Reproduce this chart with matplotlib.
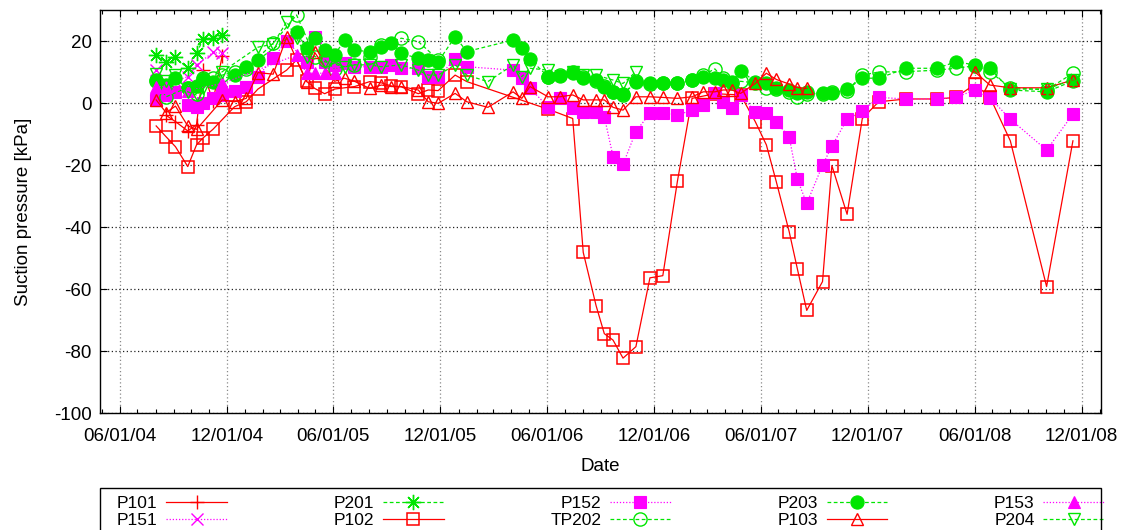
import numpy as np
import pandas as pd
import matplotlib
matplotlib.use("Agg")
import matplotlib.pyplot as plt
import matplotlib.dates as mdates
from matplotlib.patches import Rectangle

plt.rcParams["font.family"] = ["Liberation Sans", "DejaVu Sans"]
plt.rcParams["axes.unicode_minus"] = False

N = None

# Survey dates shared by all piezometers (None = no reading that day)
DATES = [
    "2004-08-02", "2004-08-19", "2004-09-04", "2004-09-25", "2004-10-10",
    "2004-10-21", "2004-11-07", "2004-11-23", "2004-12-14", "2005-01-03",
    "2005-01-23", "2005-02-18", "2005-03-13", "2005-03-30", "2005-04-16",
    "2005-04-30", "2005-05-17", "2005-06-03", "2005-06-20", "2005-07-07",
    "2005-08-02", "2005-08-22", "2005-09-08", "2005-09-25", "2005-10-24",
    "2005-11-10", "2005-11-27", "2005-12-26", "2006-01-15", "2006-02-20",
    "2006-04-04", "2006-04-19", "2006-05-03", "2006-06-03", "2006-06-23",
    "2006-07-15", "2006-08-02", "2006-08-24", "2006-09-07", "2006-09-22",
    "2006-10-09", "2006-10-31", "2006-11-24", "2006-12-16", "2007-01-10",
    "2007-02-04", "2007-02-23", "2007-03-15", "2007-03-29", "2007-04-13",
    "2007-04-28", "2007-05-23", "2007-06-11", "2007-06-28", "2007-07-20",
    "2007-08-03", "2007-08-19", "2007-09-15", "2007-10-01", "2007-10-27",
    "2007-11-22", "2007-12-20", "2008-02-05", "2008-03-29", "2008-04-30",
    "2008-06-01", "2008-06-27", "2008-08-01", "2008-10-02", "2008-11-16",
]

# Suction pressure readings [kPa]
P101 = [
    N, -4, -6, -9, -7, 10.5, 0.5, 15.3, N, N,
    N, N, N, N, N, N, N, N, N, N,
    N, N, N, N, N, N, N, N, N, N,
    N, N, N, N, N, N, N, N, N, N,
    N, N, N, N, N, N, N, N, N, N,
    N, N, N, N, N, N, N, N, N, N,
    N, N, N, N, N, N, N, N, N, N,
]
P151 = [
    10.5, 6, 7, 8.5, 12.3, N, 16.3, 16, N, N,
    N, N, N, N, N, N, N, N, N, N,
    N, N, N, N, N, N, N, N, N, N,
    N, N, N, N, N, N, N, N, N, N,
    N, N, N, N, N, N, N, N, N, N,
    N, N, N, N, N, N, N, N, N, N,
    N, N, N, N, N, N, N, N, N, N,
]
P201 = [
    15.5, 13.3, 14.7, 11.2, 16, 20.5, 20.9, 21.9, N, N,
    N, N, N, N, N, N, N, N, N, N,
    N, N, N, N, N, N, N, N, N, N,
    N, N, N, N, N, N, N, N, N, N,
    N, N, N, N, N, N, N, N, N, N,
    N, N, N, N, N, N, N, N, N, N,
    N, N, N, N, N, N, N, N, N, N,
]
P102 = [
    -7.4, -10.9, -14.1, -20.5, -13.5, -11.3, -8.5, N, -1.2, 0.4,
    4.5, N, 10.6, 13.9, 7.0, 4.7, 3.0, 4.5, N, 5.3,
    6.9, 6.5, 5.5, 5.2, 3.0, 4.2, 4.0, 9.0, 6.9, N,
    N, N, N, -2.0, N, -5.0, -48.2, -65.4, -74.4, -76.5,
    -82.3, -78.6, -56.4, -55.7, -25.2, 1.5, N, 3.0, N, N,
    2.6, -6.0, -13.5, -25.4, -41.5, -53.5, -66.9, -57.6, -20.2, -35.9,
    -5.0, 0.4, 1.3, 1.3, 1.8, 6.0, 2.0, -12.2, -59.2, -12.2,
]
P152 = [
    1.0, 2.5, 3.5, -0.6, -1.2, 0.0, 1.6, 2.6, 4.0, 5.3,
    8.5, 14.5, 20.0, N, 13.3, 21.4, 13.3, 12.3, 12.8, 11.7,
    11.7, 11.7, 12.3, 11.2, 11.2, 8.5, 8.5, 14.1, 11.7, N,
    10.6, 8.0, 4.7, -1.2, 1.6, -1.7, -2.8, -2.8, -4.4, -17.3,
    -19.8, -9.2, -3.3, -3.3, -3.9, -2.3, -0.6, 3.2, 0.4, -1.7,
    2.6, -2.8, -3.3, -6.2, -10.9, -24.6, -32.4, -20.1, -13.9, -5.3,
    -2.6, 1.8, 1.3, 1.3, 1.8, 4.2, 1.7, -5.2, -15.2, -3.6,
]
TP202 = [
    7, 2, N, 5, 3, 8, 8, 9, 10, 11,
    N, 19.3, N, 28.4, N, 15, 14, 11, N, 12.3,
    15, 18.7, N, 20.9, 19.8, N, 14, N, N, N,
    N, N, N, 8.5, 9, 10, 8.5, 7, 5.5, 3.5,
    2.5, 7, 6, 6.5, 6.5, 7.5, 9, 11, 8, 6.5,
    7, 6.5, 5, 4.5, 3.5, 2, 3, 3, 3.5, 4,
    9, 10, 10.1, 10.6, 11.2, 12, 10.1, 5, 4.2, 9.6,
]
P203 = [
    7.4, 5.8, 8, 4.7, 5.5, 7.7, 6.9, N, 9, 11.5,
    13.9, N, N, 23, 17.6, 21, 17.1, 15.5, 20.3, 17,
    16.6, 18.2, 19.3, 16, 14.4, 13.9, 13.3, 21.4, 16.6, N,
    20.3, 17.6, 14.1, 8.5, 8.7, 9.6, 8, 7.4, 5.3, 3.6,
    2.9, 6.9, 6.5, 6.5, 6.5, 7.4, 8.5, 8, 7.4, 6.9,
    10.4, 6.9, 6.5, 4.7, 4.2, 3.1, 3.6, 3.1, 3.3, 4.4,
    8, 8, 11.2, 11.2, 13.3, 12.3, 11.2, 4.2, 3.6, 7.1,
]
P103 = [
    1, -3.1, -1, -7.4, -8.5, N, N, 1, 0.4, 1.5,
    9.8, 9.3, 21.2, N, 6.9, 16.3, N, 7, 8, 7,
    4.7, 5.8, 5.3, 5.3, 4.2, 0.4, -0.1, 3.1, 0.4, -1.4,
    3.6, 1.5, 5.3, 2, 2, 2.6, 1, 1, 1, -1.4,
    -2.3, 2, 2, 1.8, 1.5, 2, 3.6, 3.6, 4.2, 4.2,
    3.1, 6.3, 9.6, 7.6, 6.1, 5, 4.7, N, N, N,
    N, N, N, N, N, 10.1, 5.8, 4.9, 4.9, 7.4,
]
P153 = [
    5.3, 5.3, N, 4, N, N, N, 6.3, N, N,
    N, N, N, 15.5, 9.6, 9.6, 9.6, 9.6, N, N,
    N, N, N, N, N, N, N, N, N, N,
    N, N, N, N, N, N, N, N, N, N,
    N, N, N, N, N, N, N, N, N, N,
    N, N, N, N, N, N, N, N, N, N,
    N, N, N, N, N, N, N, N, N, N,
]
P204 = [
    9.4, 7, 9, 3.6, 2.6, 4.7, N, 10.1, N, N,
    18, 19, 26.2, 20.9, 15, N, 13.3, N, 11.7, 12.3,
    12.3, 11.7, N, 12.3, 10.6, 9, 9, 12.3, 9, 6.9,
    12.3, 8.5, 11.2, 10.6, N, 10.1, 9, 9, N, 7.4,
    6.3, 10.1, N, N, N, N, N, N, N, N,
    N, N, N, N, N, N, N, N, N, N,
    N, N, N, N, N, N, N, 4.5, 4.5, 7.5,
]

RED = "#ff0000"
MAG = "#ff00ff"
GRN = "#00e600"

dates = pd.to_datetime(DATES)


def draw(ax, values, label, color, ls, marker, ms, filled, mew=1.0):
    y = np.array([np.nan if v is None else v for v in values], dtype=float)
    ok = ~np.isnan(y)
    d = list(dates[ok])
    yy = list(y[ok])
    # break the connecting line across long pauses between readings
    xs, ys = [], []
    for i, (t, v) in enumerate(zip(d, yy)):
        if i > 0 and (t - d[i - 1]).days > 150:
            xs.append(d[i - 1] + (t - d[i - 1]) / 2)
            ys.append(np.nan)
        xs.append(t)
        ys.append(v)
    ax.plot(xs, ys, color=color, linestyle=ls, linewidth=0.9,
            marker=marker, markersize=ms, markeredgewidth=mew,
            markerfacecolor=color if filled else "none",
            markeredgecolor=color, label=label)


FS = 13.5

fig = plt.figure(figsize=(11.28, 5.30), dpi=100)
ax = fig.add_axes([100 / 1128, 1 - 413 / 530, 1001 / 1128, 403 / 530])

dot = (0, (1, 1.5))
dash = (0, (3, 2))
draw(ax, P101, "P101", RED, "-", "+", 10, False, 1.0)
draw(ax, P151, "P151", MAG, dot, "x", 8, False, 1.0)
draw(ax, P201, "P201", GRN, dash, (8, 2, 0), 11, False, 1.0)
draw(ax, P102, "P102", RED, "-", "s", 9, False, 1.1)
draw(ax, P152, "P152", MAG, dot, "s", 9, True, 0.8)
draw(ax, TP202, "TP202", GRN, dash, "o", 9.5, False, 1.0)
draw(ax, P203, "P203", GRN, dash, "o", 9.5, True, 0.8)
draw(ax, P103, "P103", RED, "-", "^", 9, False, 1.0)
draw(ax, P153, "P153", MAG, dot, "^", 9, True, 0.8)
draw(ax, P204, "P204", GRN, dash, "v", 9, False, 1.0)

ax.set_xlim(pd.Timestamp("2004-04-28"), pd.Timestamp("2009-01-03"))
ax.set_ylim(-100, 30)
ax.set_yticks(np.arange(-100, 21, 20))
ax.xaxis.set_major_locator(mdates.MonthLocator(bymonth=[6, 12], bymonthday=1))
ax.xaxis.set_minor_locator(mdates.MonthLocator())
ax.xaxis.set_major_formatter(mdates.DateFormatter("%m/%d/%y"))

ax.tick_params(which="both", direction="in", top=True, right=True,
               labelsize=FS, colors="black")
ax.tick_params(which="major", length=5, width=0.8)
ax.tick_params(which="minor", length=3, width=0.8)
ax.tick_params(axis="x", which="major", pad=11)
ax.tick_params(axis="y", which="major", pad=6)
ax.grid(True, axis="x", which="major", color="#8a8a8a", linestyle=(0, (1, 2)), linewidth=0.9)
ax.grid(True, axis="y", which="major", color="#222222", linestyle=(0, (1, 2)), linewidth=0.9)
for s in ax.spines.values():
    s.set_linewidth(1.0)

ax.set_xlabel("Date", fontsize=FS, labelpad=9)
ax.set_ylabel("Suction pressure [kPa]", fontsize=FS, labelpad=16)

# key below the plot: entries in an expanded grid, box drawn separately
leg = ax.legend(loc="upper left", ncol=5, mode="expand",
                bbox_to_anchor=(117 / 1128, 0, 987 / 1128, 1 - 496 / 530),
                bbox_transform=fig.transFigure, markerfirst=False,
                fontsize=12.5, handlelength=3.5, handletextpad=0.5,
                labelspacing=0.1, borderpad=0.0, borderaxespad=0,
                frameon=False, columnspacing=1.0)
fig.add_artist(Rectangle((100 / 1128, -0.05), 1001 / 1128, 0.05 + (1 - 488 / 530),
                         transform=fig.transFigure, fill=False,
                         edgecolor="black", linewidth=1.0))

fig.savefig("out.png", dpi=100)
